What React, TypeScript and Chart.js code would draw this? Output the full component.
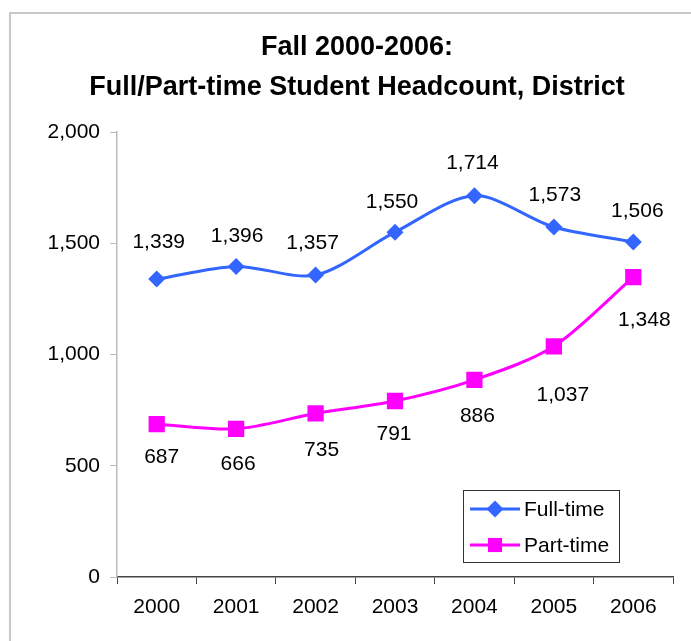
import React, { useEffect, useRef } from 'react';
import { Chart, registerables } from 'chart.js';

Chart.register(...registerables);

// ---- data ----
const years = ['2000', '2001', '2002', '2003', '2004', '2005', '2006'];
const fullTime = [1339, 1396, 1357, 1550, 1714, 1573, 1506];
const partTime = [687, 666, 735, 791, 886, 1037, 1348];
const yTickValues = [0, 500, 1000, 1500, 2000];
const seriesNames = ['Full-time', 'Part-time'];
const titleLines = ['Fall 2000-2006:', 'Full/Part-time Student Headcount, District'];

// ---- styling ----
const FONT = '"Liberation Sans", Arial, Helvetica, sans-serif';
const BLUE = '#3366FF';
const MAGENTA = '#FF00FF';
// label nudges (dx, dy) relative to each point, per series
const LABEL_NUDGE: number[][][] = [
  [[2, -37], [1, -30], [-3, -32], [-3, -30], [-2, -32], [1, -32], [4, -31]],
  [[5, 33], [2, 35], [6, 37], [-1, 33], [3, 36], [9, 49], [11, 43]],
];

const fmt = (v: number) => v.toLocaleString('en-US');

const borderPlugin = {
  id: 'outerBorder',
  beforeDraw(chart: any) {
    const { ctx } = chart;
    ctx.save();
    ctx.fillStyle = '#ffffff';
    ctx.fillRect(0, 0, chart.width, chart.height);
    ctx.strokeStyle = '#c8c8c8';
    ctx.lineWidth = 2;
    ctx.strokeRect(10, 13, chart.width + 50, chart.height + 50);
    ctx.restore();
  },
};

const valueLabelPlugin = {
  id: 'valueLabels',
  afterDatasetsDraw(chart: any) {
    const { ctx } = chart;
    ctx.save();
    ctx.font = `21px ${FONT}`;
    ctx.fillStyle = '#000';
    ctx.textAlign = 'center';
    ctx.textBaseline = 'middle';
    chart.data.datasets.forEach((ds: any, i: number) => {
      const meta = chart.getDatasetMeta(i);
      meta.data.forEach((pt: any, j: number) => {
        const n = LABEL_NUDGE[i][j];
        ctx.fillText(fmt(ds.data[j]), pt.x + n[0], pt.y + n[1]);
      });
    });
    ctx.restore();
  },
};

function drawMarker(ctx: CanvasRenderingContext2D, style: string, r: number, x: number, y: number, color: string) {
  ctx.fillStyle = color;
  ctx.beginPath();
  if (style === 'rectRot') {
    ctx.moveTo(x, y - r);
    ctx.lineTo(x + r, y);
    ctx.lineTo(x, y + r);
    ctx.lineTo(x - r, y);
    ctx.closePath();
  } else {
    const s = r * Math.SQRT1_2;
    ctx.rect(x - s, y - s, 2 * s, 2 * s);
  }
  ctx.fill();
}

const legendPlugin = {
  id: 'insideLegend',
  afterDraw(chart: any) {
    const { ctx, chartArea } = chart;
    const w = 156;
    const h = 72;
    const x = chartArea.right - 54 - w;
    const y = chartArea.bottom - 15 - h;
    ctx.save();
    ctx.fillStyle = '#fff';
    ctx.fillRect(x, y, w, h);
    ctx.strokeStyle = '#333';
    ctx.lineWidth = 1;
    ctx.strokeRect(x + 0.5, y + 0.5, w, h);
    chart.data.datasets.forEach((ds: any, k: number) => {
      const cy = y + 19 + k * 36;
      ctx.strokeStyle = ds.borderColor;
      ctx.lineWidth = 3;
      ctx.beginPath();
      ctx.moveTo(x + 7, cy);
      ctx.lineTo(x + 57, cy);
      ctx.stroke();
      drawMarker(ctx, ds.pointStyle, k === 0 ? ds.pointRadius : ds.pointRadius - 1.5, x + 32, cy, ds.backgroundColor);
      ctx.fillStyle = '#000';
      ctx.font = `21px ${FONT}`;
      ctx.textAlign = 'left';
      ctx.textBaseline = 'middle';
      ctx.fillText(ds.label, x + 61, cy + 1);
    });
    ctx.restore();
  },
};

export default function App() {
  const ref = useRef<HTMLCanvasElement | null>(null);

  useEffect(() => {
    document.body.style.margin = '0';
    if (!ref.current) return;
    const chart = new Chart(ref.current, {
      type: 'line',
      data: {
        labels: years,
        datasets: [
          {
            label: seriesNames[0],
            data: fullTime,
            borderColor: BLUE,
            backgroundColor: BLUE,
            borderWidth: 3,
            pointStyle: 'rectRot',
            pointRadius: 8.5,
            pointBorderWidth: 0,
            pointHoverRadius: 8.5,
            tension: 0.3,
            fill: false,
          },
          {
            label: seriesNames[1],
            data: partTime,
            borderColor: MAGENTA,
            backgroundColor: MAGENTA,
            borderWidth: 3,
            pointStyle: 'rect',
            pointRadius: 11.5,
            pointBorderWidth: 0,
            pointHoverRadius: 11.5,
            tension: 0.3,
            fill: false,
          },
        ],
      },
      options: {
        responsive: false,
        animation: false,
        events: [],
        layout: { padding: { left: 41, right: 18, top: 0, bottom: 0 } },
        plugins: {
          legend: { display: false },
          tooltip: { enabled: false },
          title: {
            display: true,
            text: titleLines,
            color: '#000',
            font: { family: FONT, size: 27, weight: 'bold', lineHeight: 1.5 },
            padding: { top: 27, bottom: 24 },
          },
        },
        scales: {
          x: {
            type: 'category',
            offset: true,
            grid: {
              display: true,
              drawOnChartArea: false,
              drawTicks: true,
              tickLength: 7,
              color: '#444',
              offset: true,
            },
            border: { display: true, color: '#444', width: 1.5 },
            ticks: {
              color: '#000',
              font: { family: FONT, size: 21 },
              padding: 11,
              maxRotation: 0,
              autoSkip: false,
            },
            afterFit(scale: any) {
              scale.height = 64;
            },
          },
          y: {
            min: 0,
            max: 2000,
            grid: {
              display: true,
              drawOnChartArea: false,
              drawTicks: true,
              tickLength: 7,
              color: '#bbbbbb',
            },
            border: { display: true, color: '#bbbbbb', width: 1.5 },
            ticks: {
              color: '#000',
              font: { family: FONT, size: 21 },
              padding: 10,
              callback: (v: any) => fmt(Number(v)),
            },
            afterBuildTicks(scale: any) {
              scale.ticks = yTickValues.map((v) => ({ value: v }));
            },
            afterFit(scale: any) {
              scale.width = 76;
            },
          },
        },
      },
      plugins: [borderPlugin, valueLabelPlugin, legendPlugin],
    });
    return () => chart.destroy();
  }, []);

  return (
    <div style={{ position: 'absolute', left: 0, top: 0 }}>
      <canvas ref={ref} width={691} height={641} style={{ display: 'block', width: 691, height: 641 }} />
    </div>
  );
}
